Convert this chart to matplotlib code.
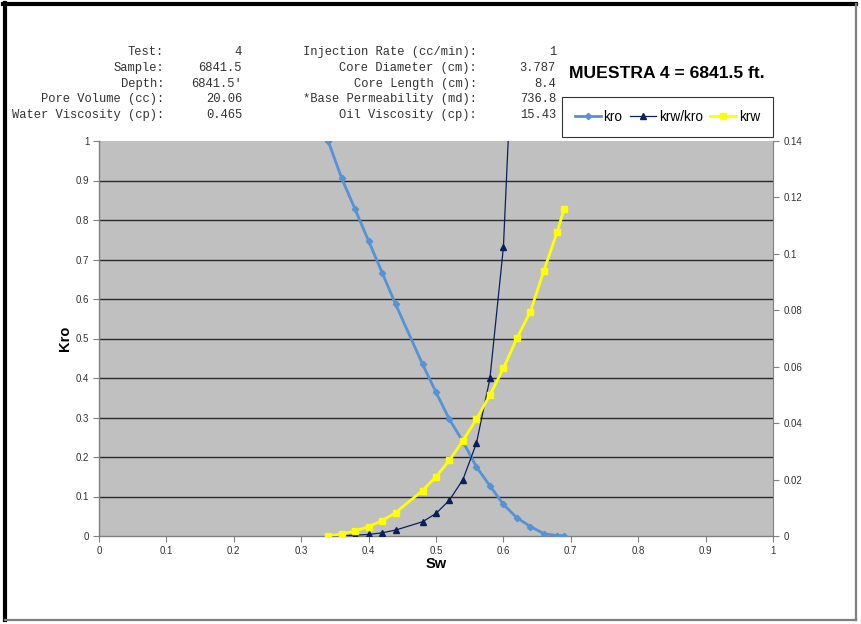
import matplotlib
matplotlib.use("Agg")
import matplotlib.pyplot as plt
from matplotlib.lines import Line2D

# ---- data ----
sw = [0.34, 0.36, 0.38, 0.40, 0.42, 0.44, 0.48, 0.50, 0.52, 0.54, 0.56,
      0.58, 0.60, 0.62, 0.64, 0.66, 0.68, 0.69]
kro = [1.0, 0.906, 0.827, 0.747, 0.667, 0.587, 0.435, 0.364, 0.295, 0.239,
       0.175, 0.127, 0.080, 0.046, 0.024, 0.006, 0.001, 0.001]
krw = [0.0, 0.0007, 0.0018, 0.0033, 0.0054, 0.0083, 0.0161, 0.0210, 0.0269,
       0.0338, 0.0414, 0.0500, 0.0594, 0.0701, 0.0795, 0.0940, 0.1079, 0.1159]
sw_ratio = [0.34, 0.36, 0.38, 0.40, 0.42, 0.44, 0.48, 0.50, 0.52, 0.54,
            0.56, 0.58, 0.60, 0.62]
krw_kro = [0.0, 0.001, 0.002, 0.004, 0.008, 0.015, 0.036, 0.057, 0.091,
           0.143, 0.235, 0.399, 0.731, 1.49]

x_ticks = [0, 0.1, 0.2, 0.3, 0.4, 0.5, 0.6, 0.7, 0.8, 0.9, 1]
x_labels = ["0", "0.1", "0.2", "0.3", "0.4", "0.5", "0.6", "0.7", "0.8", "0.9", "1"]
y_ticks = [0, 0.1, 0.2, 0.3, 0.4, 0.5, 0.6, 0.7, 0.8, 0.9, 1]
y_labels = ["0", "0.1", "0.2", "0.3", "0.4", "0.5", "0.6", "0.7", "0.8", "0.9", "1"]
y2_ticks = [0, 0.02, 0.04, 0.06, 0.08, 0.10, 0.12, 0.14]
y2_labels = ["0", "0.02", "0.04", "0.06", "0.08", "0.1", "0.12", "0.14"]

info_left_labels = ["Test:", "Sample:", "Depth:", "Pore Volume (cc):", "Water Viscosity (cp):"]
info_left_values = ["4", "6841.5", "6841.5'", "20.06", "0.465"]
info_right_labels = ["Injection Rate (cc/min):", "Core Diameter (cm):", "Core Length (cm):",
                     "*Base Permeability (md):", "Oil Viscosity (cp):"]
info_right_values = ["1", "3.787", "8.4", "736.8", "15.43"]

title = "MUESTRA 4 = 6841.5 ft."

W, H = 861, 624
fig = plt.figure(figsize=(W / 100, H / 100), dpi=100)
fig.patch.set_facecolor("white")

def fx(px):
    return px / W

def fy(py):
    return 1 - py / H

# outer frame
fig.add_artist(Line2D([fx(5), fx(5)], [fy(3), fy(620)], color="black", lw=3.0))
fig.add_artist(Line2D([fx(3), fx(856)], [fy(4), fy(4)], color="black", lw=3.0))
fig.add_artist(Line2D([fx(856), fx(856)], [fy(4), fy(620)], color="#7f7f7f", lw=1.6))
fig.add_artist(Line2D([fx(5), fx(856)], [fy(620), fy(620)], color="#7f7f7f", lw=1.6))

left, right, top, bottom = 99, 773, 141, 536
ax = fig.add_axes([fx(left), fy(bottom), (right - left) / W, (bottom - top) / H])
ax.set_facecolor("#c0c0c0")
ax.set_xlim(0, 1)
ax.set_ylim(0, 1)
for y in y_ticks[1:-1]:
    ax.axhline(y, color="#2a2a2a", lw=1.0, zorder=1)

tick_font = dict(family="Liberation Sans", size=7, color="#333333")
ax.set_xticks(x_ticks)
ax.set_xticklabels(x_labels, **tick_font)
ax.set_yticks(y_ticks)
ax.set_yticklabels(y_labels, **tick_font)
ax.tick_params(axis="both", direction="out", length=4, width=0.8, color="#808080", pad=3)
for s in ["left", "bottom"]:
    ax.spines[s].set_color("#808080")
    ax.spines[s].set_linewidth(1.0)
ax.spines["top"].set_visible(False)
ax.spines["right"].set_visible(False)

ax.set_xlabel("Sw", family="Liberation Sans", fontweight="bold", size=10.5, labelpad=1)
ax.set_ylabel("Kro", family="Liberation Sans", fontweight="bold", size=10.5, labelpad=3)

l1, = ax.plot(sw, kro, color="#5592d6", lw=2.0, marker="D", ms=3.2, zorder=3, label="kro",
              clip_on=True)
l2, = ax.plot(sw_ratio, krw_kro, color="#0b1f5c", lw=0.9, marker="^", ms=4.5, zorder=4,
              label="krw/kro", clip_on=True)

ax2 = ax.twinx()
ax2.set_ylim(0, 0.14)
ax2.set_yticks(y2_ticks)
ax2.set_yticklabels(y2_labels, **tick_font)
ax2.tick_params(axis="y", direction="out", length=4, width=0.8, color="#808080", pad=4)
ax2.spines["right"].set_color("#808080")
for s in ["left", "top", "bottom"]:
    ax2.spines[s].set_visible(False)
l3, = ax2.plot(sw, krw, color="#ffff00", lw=2.0, marker="s", ms=5, zorder=5, label="krw")

# header info in monospace
mono = dict(family="Liberation Mono", size=8.7, color="#333333")
rows_y = [52, 68, 84, 99, 115]
for yy, a, b, c, d in zip(rows_y, info_left_labels, info_left_values,
                          info_right_labels, info_right_values):
    fig.text(fx(164), fy(yy), a, ha="right", va="center", **mono)
    fig.text(fx(242), fy(yy), b, ha="right", va="center", **mono)
    fig.text(fx(477), fy(yy), c, ha="right", va="center", **mono)
    fig.text(fx(556), fy(yy), d, ha="right", va="center", **mono)

fig.text(fx(667), fy(74), title, ha="center", va="center", family="Liberation Sans",
         fontweight="bold", size=12.6, color="black")

leg = fig.legend(handles=[l1, l2, l3], labels=["kro", "krw/kro", "krw"],
                 loc="center", ncol=3,
                 bbox_to_anchor=(fx(562), fy(137), (773 - 562) / W, 40 / H),
                 frameon=True, fancybox=False, borderpad=0.95, handlelength=1.9,
                 handletextpad=0.2, columnspacing=0.55, borderaxespad=0,
                 prop=dict(family="Liberation Sans", size=9.8))
leg.get_frame().set_edgecolor("black")
leg.get_frame().set_linewidth(0.8)

fig.savefig("out.png", dpi=100)
